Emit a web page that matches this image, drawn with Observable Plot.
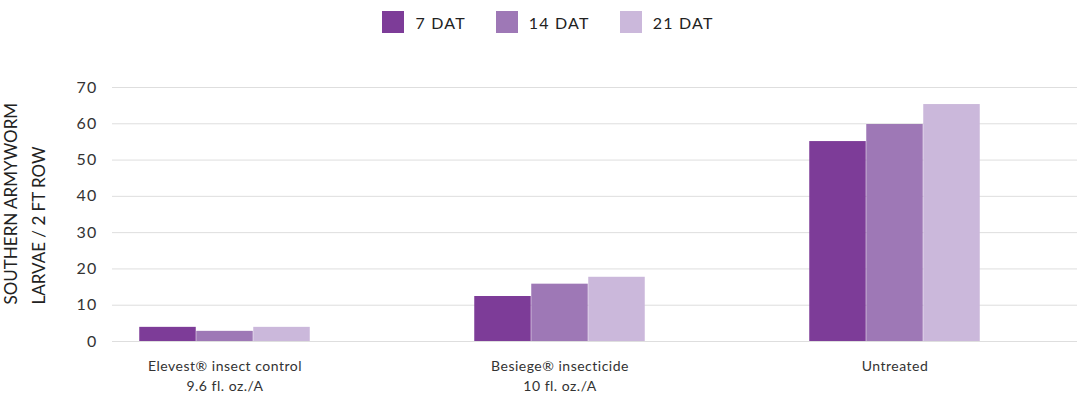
<!DOCTYPE html>
<html>
<head>
<meta charset="utf-8">
<script src="https://cdn.jsdelivr.net/npm/d3@7"></script>
<script src="https://cdn.jsdelivr.net/npm/@observablehq/plot@0.6"></script>
<style>
  html, body { margin: 0; padding: 0; background: #fff; }
  body { width: 1090px; height: 398px; overflow: hidden; font-family: Lato, "Open Sans", sans-serif; }
  #legend { height: 44px; display: flex; justify-content: center; align-items: center; font-size: 16px; color: #222; letter-spacing: 1.2px; padding-left: 6px; box-sizing: border-box; }
  .item { display: flex; align-items: center; margin: 0 15px; }
  .sw { width: 22px; height: 22px; margin-right: 11px; }
  #chart svg { display: block; }
</style>
</head>
<body>
<div id="legend"></div>
<div id="chart"></div>
<script>
const categories = ["Elevest® insect control", "Besiege® insecticide", "Untreated"];
const rates = ["9.6 fl. oz./A", "10 fl. oz./A", ""];
const series = ["7 DAT", "14 DAT", "21 DAT"];
const dat7 = [3.9, 12.4, 55.1];
const dat14 = [2.8, 15.8, 59.8];
const dat21 = [3.9, 17.7, 65.3];
const yTicks = [0, 10, 20, 30, 40, 50, 60, 70];
const colors = ["#7d3c98", "#9e78b6", "#cbb8db"];
const yTitle = "SOUTHERN ARMYWORM\nLARVAE / 2 FT ROW";

const values = [dat7, dat14, dat21];
const rows = [];
series.forEach((s, si) => categories.forEach((c, ci) => rows.push({category: c, series: s, value: values[si][ci]})));

const legend = document.getElementById("legend");
series.forEach((s, i) => {
  const it = document.createElement("div");
  it.className = "item";
  it.innerHTML = `<div class="sw" style="background:${colors[i]}"></div><span>${s}</span>`;
  legend.appendChild(it);
});

const barW = 57;
const step = 335.5;
const inset = (step - barW) / 2;
const offsets = [-barW, 0, barW];

const chart = Plot.plot({
  width: 1090,
  height: 354,
  marginTop: 43,
  marginBottom: 57,
  marginLeft: 112,
  marginRight: 13,
  style: {fontFamily: "Lato, 'Open Sans', sans-serif", fontSize: "15px", color: "#333", background: "#fff"},
  x: {domain: categories, range: [56, 1062.5], padding: 0, label: null},
  y: {domain: [0, 70], label: null},
  color: {domain: series, range: colors},
  marks: [
    Plot.ruleY(yTicks, {stroke: "#dedede", strokeWidth: 1}),
    ...series.map((s, i) => Plot.barY(rows.filter(d => d.series === s), {
      x: "category", y: "value", fill: "series", dx: offsets[i],
      insetLeft: inset, insetRight: inset
    })),
    Plot.axisY({ticks: yTicks, tickSize: 0, tickPadding: 15, label: null, fontSize: 16}),
    Plot.axisX({
      tickSize: 0, tickPadding: 15, label: null, fontSize: 14, lineHeight: 1.43,
      tickFormat: (d) => { const r = rates[categories.indexOf(d)]; return r ? d + "\n" + r : d; }
    }),
    Plot.text([yTitle], {
      frameAnchor: "bottom-left", text: d => d, rotate: -90, textAnchor: "start",
      lineHeight: 1.6, fontSize: 17, dx: -68, dy: -37, fill: "#222", ariaLabel: "ytitle"
    })
  ]
});
document.getElementById("chart").appendChild(chart);
d3.select(chart).selectAll("g[aria-label=ytitle] text").style("letter-spacing", "2.4px");
d3.select(chart).selectAll("g[aria-label='y-axis tick label'] text").style("letter-spacing", "1.2px");
d3.select(chart).selectAll("g[aria-label='x-axis tick label'] text").style("letter-spacing", "0.5px");
</script>
</body>
</html>
